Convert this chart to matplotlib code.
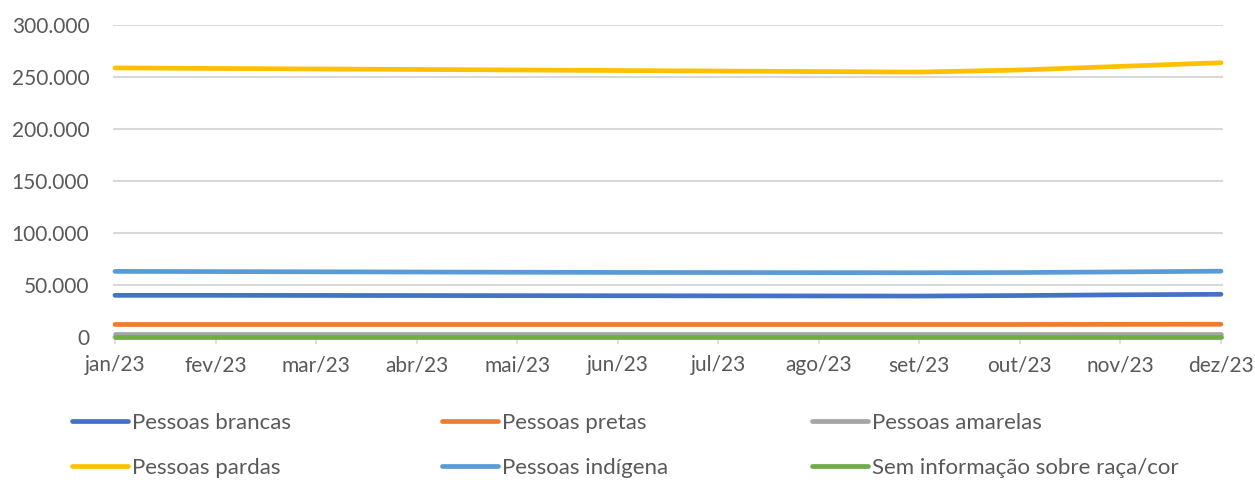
import matplotlib.pyplot as plt
from matplotlib.ticker import FuncFormatter

plt.rcParams['font.family'] = ['Lato', 'DejaVu Sans']

# Data
meses = ["jan/23", "fev/23", "mar/23", "abr/23", "mai/23", "jun/23",
         "jul/23", "ago/23", "set/23", "out/23", "nov/23", "dez/23"]
brancas = [40000, 40000, 39900, 39800, 39700, 39600, 39500, 39400, 39300, 39800, 40500, 41000]
pretas = [12000, 12000, 12000, 12000, 12000, 12000, 12000, 12000, 12000, 12000, 12100, 12200]
amarelas = [3000, 3000, 3000, 3000, 3000, 3000, 3000, 3000, 3000, 3000, 3000, 3000]
pardas = [258500, 258000, 257500, 257000, 256500, 256000, 255500, 255000, 254500, 256500, 260000, 263500]
indigena = [63000, 62800, 62600, 62400, 62200, 62000, 61900, 61800, 61700, 61900, 62500, 63200]
sem_info = [300, 300, 300, 300, 300, 300, 300, 300, 300, 300, 300, 300]

series = [
    ("Pessoas brancas", brancas, "#4472C4"),
    ("Pessoas pretas", pretas, "#ED7D31"),
    ("Pessoas amarelas", amarelas, "#A5A5A5"),
    ("Pessoas pardas", pardas, "#FFC000"),
    ("Pessoas indígena", indigena, "#5B9BD5"),
    ("Sem informação sobre raça/cor", sem_info, "#70AD47"),
]

txt = "#595959"
grid = "#D9D9D9"

fig = plt.figure(figsize=(12.55, 4.8), dpi=100)
ax = fig.add_axes([0.090, 0.298, 0.8845, 0.6505])

x = list(range(len(meses)))
handles = {}
for name, vals, col in series:
    h, = ax.plot(x, vals, color=col, lw=3.4, solid_capstyle="round",
                 solid_joinstyle="round", label=name, clip_on=False)
    handles[name] = h

ax.set_ylim(0, 300000)
ax.set_yticks(range(0, 300001, 50000))
ax.yaxis.set_major_formatter(FuncFormatter(lambda v, p: f"{int(v):,}".replace(",", ".")))
ax.set_xlim(-0.02, 11.02)
ax.set_xticks(x)
ax.set_xticklabels(meses)

ax.grid(axis="y", color=grid, lw=1.5)
ax.set_axisbelow(True)
for s in ["top", "left", "right"]:
    ax.spines[s].set_visible(False)
ax.spines["bottom"].set_color(grid)
ax.spines["bottom"].set_linewidth(1.5)
ax.spines["bottom"].set_zorder(0.5)

ax.tick_params(axis="y", length=0, pad=17, labelsize=15, labelcolor=txt)
ax.tick_params(axis="x", length=5, width=1.2, color=grid, pad=8, labelsize=15, labelcolor=txt)

# legend: three columns placed like the original
cols = [("Pessoas brancas", "Pessoas pardas"),
        ("Pessoas pretas", "Pessoas indígena"),
        ("Pessoas amarelas", "Sem informação sobre raça/cor")]
xs = [72 / 1255, 442 / 1255, 812 / 1255]
for cx, names in zip(xs, cols):
    leg = fig.legend([handles[n] for n in names], list(names), loc="upper left",
                     bbox_to_anchor=(cx, 1 - 413 / 480), frameon=False, fontsize=16,
                     handlelength=2.5, handletextpad=0.2, labelspacing=1.12,
                     borderaxespad=0, borderpad=0, labelcolor=txt)

fig.savefig("out.png", dpi=100)
